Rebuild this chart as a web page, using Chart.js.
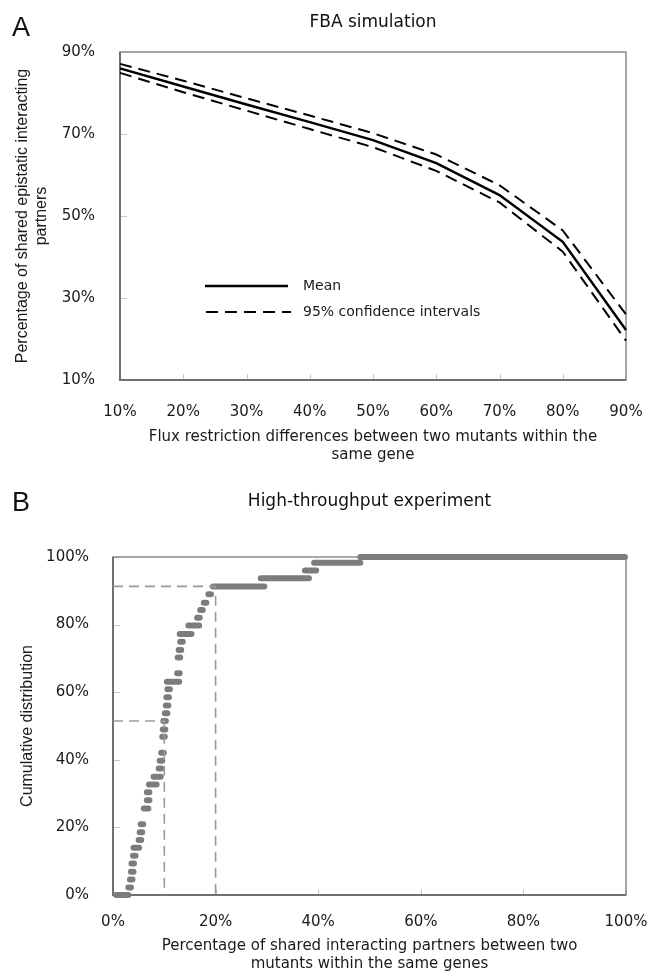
<!DOCTYPE html>
<html>
<head>
<meta charset="utf-8">
<script src="https://cdn.jsdelivr.net/npm/chart.js@4/dist/chart.umd.min.js"></script>
<style>
  html, body { margin: 0; padding: 0; background: #fff; }
  canvas { position: absolute; left: 0; }
  #chartA { top: 0; }
  #chartB { top: 470px; }
</style>
</head>
<body>
<canvas id="chartA" width="650" height="470"></canvas>
<canvas id="chartB" width="650" height="505"></canvas>
<script>
// A: FBA simulation
const fluxLabels = ['10%', '20%', '30%', '40%', '50%', '60%', '70%', '80%', '90%'];
const meanShared = [86.0, 81.6, 77.2, 72.9, 68.5, 62.9, 55.1, 43.7, 22.2];
const upperCI = [87.1, 83.0, 78.7, 74.5, 70.2, 65.0, 57.5, 46.5, 26.0];
const lowerCI = [84.9, 80.2, 75.7, 71.2, 66.8, 61.0, 53.3, 41.3, 19.6];

// B: high-throughput, one flat step per cumulative level
const cdfLevel = [0, 2.2, 4.6, 6.9, 9.3, 11.6, 14.0, 16.3, 18.6, 20.9, 25.6, 28.0, 30.4, 32.7,
  35.0, 37.4, 39.7, 42.1, 46.8, 49.0, 51.5, 53.8, 56.1, 58.5, 60.9, 63.1, 65.6, 70.3, 72.5,
  74.9, 77.2, 79.7, 82.0, 84.3, 86.5, 89.0, 91.3, 93.7, 96.0, 98.3, 100];
const cdfFrom = [0.6, 3.0, 3.3, 3.5, 3.6, 3.9, 4.0, 5.0, 5.2, 5.4, 6.0, 6.6, 6.6, 7.0,
  7.9, 8.9, 9.1, 9.4, 9.6, 9.7, 9.8, 10.1, 10.3, 10.4, 10.6, 10.5, 12.5, 12.6, 12.8,
  13.1, 13.0, 14.7, 16.4, 17.0, 17.7, 18.6, 19.5, 28.8, 37.4, 39.2, 48.2];
const cdfTo = [3.0, 3.5, 3.8, 4.0, 4.1, 4.4, 5.1, 5.5, 5.7, 5.9, 6.9, 7.1, 7.1, 8.5,
  9.3, 9.4, 9.6, 9.9, 10.1, 10.2, 10.3, 10.6, 10.8, 10.9, 11.1, 12.9, 13.0, 13.1, 13.3,
  13.6, 15.3, 16.8, 16.9, 17.5, 18.2, 19.1, 29.5, 38.2, 39.6, 48.2, 99.8];
const guideX = [10, 20];
const guideY = [51.5, 91.3];

const pctTicks = [10, 30, 50, 70, 90];

Chart.defaults.font.family = '"DejaVu Sans", sans-serif';
Chart.defaults.color = '#1a1a1a';

const narrow = '"Liberation Sans Narrow", "Liberation Sans", sans-serif';

// frame round the plot, with short inward tick marks
const frame = {
  id: 'frame',
  beforeDatasetsDraw(chart) {
    const { ctx, chartArea: a, scales } = chart;
    ctx.save();
    ctx.strokeStyle = '#c8c8c8';
    ctx.lineWidth = 1;
    scales.y.ticks.forEach(t => {
      const py = Math.round(scales.y.getPixelForValue(t.value)) + 0.5;
      ctx.beginPath(); ctx.moveTo(a.left, py); ctx.lineTo(a.left + 7, py); ctx.stroke();
    });
    scales.x.ticks.forEach((t, i) => {
      const px = Math.round(scales.x.getPixelForTick(i)) + 0.5;
      ctx.beginPath(); ctx.moveTo(px, a.bottom); ctx.lineTo(px, a.bottom - 6); ctx.stroke();
    });
    ctx.strokeStyle = '#8a8a8a';
    ctx.lineWidth = 1.5;
    ctx.strokeRect(a.left, a.top, a.right - a.left, a.bottom - a.top);
    ctx.strokeStyle = '#707070';
    ctx.lineWidth = 2;
    ctx.beginPath();
    ctx.moveTo(a.left, a.top); ctx.lineTo(a.left, a.bottom); ctx.lineTo(a.right, a.bottom);
    ctx.stroke();
    ctx.restore();
  }
};

const panelText = {
  id: 'panelText',
  afterDraw(chart, args, opts) {
    const { ctx, chartArea: a } = chart;
    ctx.save();
    ctx.fillStyle = '#111';
    ctx.textBaseline = 'middle';
    ctx.textAlign = 'left';
    ctx.font = '27px "Liberation Sans", sans-serif';
    ctx.fillText(opts.letter, 12, opts.letterY);
    ctx.textAlign = 'center';
    ctx.font = '17px "DejaVu Sans", sans-serif';
    ctx.fillText(opts.title, (a.left + a.right) / 2, opts.titleY);
    ctx.restore();
  }
};

const ciLegend = {
  id: 'ciLegend',
  afterDatasetsDraw(chart) {
    const { ctx } = chart;
    ctx.save();
    ctx.strokeStyle = '#000';
    ctx.lineWidth = 2.5;
    ctx.beginPath(); ctx.moveTo(205, 286); ctx.lineTo(288, 286); ctx.stroke();
    ctx.lineWidth = 2;
    ctx.setLineDash([12, 7]);
    ctx.beginPath(); ctx.moveTo(206, 312); ctx.lineTo(291, 312); ctx.stroke();
    ctx.fillStyle = '#1a1a1a';
    ctx.font = '14px "DejaVu Sans", sans-serif';
    ctx.textBaseline = 'middle';
    ctx.fillText('Mean', 303, 286);
    ctx.fillText('95% confidence intervals', 303, 312);
    ctx.restore();
  }
};

new Chart(document.getElementById('chartA'), {
  type: 'line',
  data: {
    labels: fluxLabels,
    datasets: [
      { label: 'Mean', data: meanShared, borderColor: '#000', borderWidth: 2.5, pointRadius: 0, tension: 0 },
      { label: 'Upper', data: upperCI, borderColor: '#000', borderWidth: 2, borderDash: [12, 7], pointRadius: 0, tension: 0 },
      { label: 'Lower', data: lowerCI, borderColor: '#000', borderWidth: 2, borderDash: [12, 7], pointRadius: 0, tension: 0 }
    ]
  },
  options: {
    responsive: false,
    animation: false,
    events: [],
    layout: { padding: { left: 0, right: 24, top: 52, bottom: 0 } },
    plugins: {
      legend: { display: false },
      tooltip: { enabled: false },
      panelText: { letter: 'A', letterY: 29, title: 'FBA simulation', titleY: 23 }
    },
    scales: {
      x: {
        grid: { display: false },
        border: { display: false },
        ticks: { padding: 15, font: { size: 15 }, maxRotation: 0 },
        title: {
          display: true,
          text: ['Flux restriction differences between two mutants within the', 'same gene'],
          font: { size: 15 }, padding: { top: 0, bottom: 6 }
        },
        afterFit: s => { s.height = 90; s.paddingRight = 0; }
      },
      y: {
        min: 10, max: 90,
        grid: { display: false },
        border: { display: false },
        afterBuildTicks: s => { s.ticks = pctTicks.map(v => ({ value: v })); },
        ticks: { padding: 17, font: { size: 15 }, callback: v => v + '%' },
        title: {
          display: true,
          text: ['Percentage of shared epistatic interacting', 'partners'],
          font: { size: 16, family: narrow, lineHeight: 1.2 }, padding: { top: 13 }
        },
        afterFit: s => { s.width = 120; }
      }
    }
  },
  plugins: [frame, ciLegend, panelText]
});

const stepPoints = [];
cdfLevel.forEach((y, i) => {
  stepPoints.push({ x: cdfFrom[i], y }, { x: cdfTo[i], y }, { x: cdfTo[i], y: null });
});
const guideSets = guideX.map((gx, i) => ({
  data: [{ x: 0, y: guideY[i] }, { x: gx, y: guideY[i] }, { x: gx, y: 0 }],
  showLine: true, borderColor: '#9a9a9a', borderWidth: 1.6, borderDash: [10, 6],
  pointRadius: 0, clip: false
}));

new Chart(document.getElementById('chartB'), {
  type: 'scatter',
  data: {
    datasets: [
      ...guideSets,
      {
        data: stepPoints, showLine: true, spanGaps: false,
        borderColor: '#7c7c7c', borderWidth: 6, borderCapStyle: 'round',
        pointRadius: 0, clip: false
      }
    ]
  },
  options: {
    responsive: false,
    animation: false,
    events: [],
    layout: { padding: { left: 0, right: 24, top: 87, bottom: 0 } },
    plugins: {
      legend: { display: false },
      tooltip: { enabled: false },
      panelText: { letter: 'B', letterY: 34, title: 'High-throughput experiment', titleY: 32 }
    },
    scales: {
      x: {
        min: 0, max: 100,
        grid: { display: false },
        border: { display: false },
        ticks: { stepSize: 20, padding: 10, font: { size: 15 }, maxRotation: 0, callback: v => v + '%' },
        title: {
          display: true,
          text: ['Percentage of shared interacting partners between two', 'mutants within the same genes'],
          font: { size: 15 }, padding: { top: 0, bottom: 2 }
        },
        afterFit: s => { s.height = 80; s.paddingRight = 0; }
      },
      y: {
        min: 0, max: 100,
        grid: { display: false },
        border: { display: false },
        ticks: { stepSize: 20, padding: 16, font: { size: 15 }, callback: v => v + '%' },
        title: {
          display: true,
          text: 'Cumulative distribution',
          font: { size: 16, family: narrow }, padding: { top: 18 }
        },
        afterFit: s => { s.width = 113; }
      }
    }
  },
  plugins: [frame, panelText]
});
</script>
</body>
</html>
